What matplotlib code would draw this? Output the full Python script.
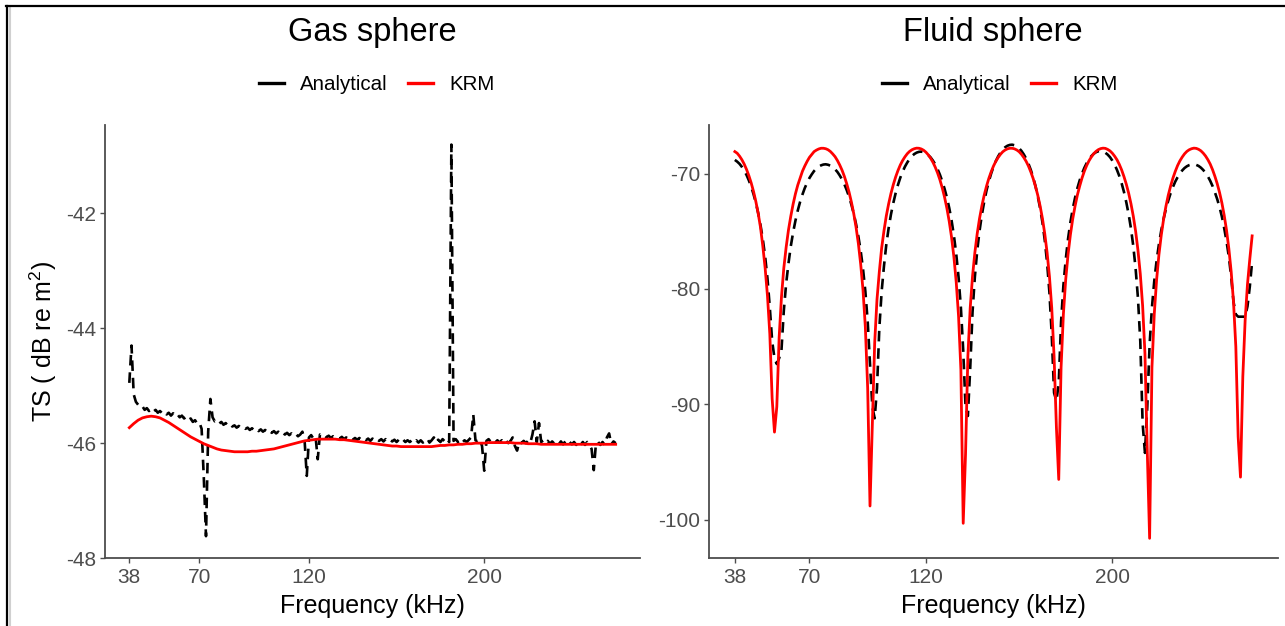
import numpy as np
import matplotlib
matplotlib.use("Agg")
import matplotlib.pyplot as plt
from matplotlib.lines import Line2D

plt.rcParams["font.family"] = ["Liberation Sans", "DejaVu Sans"]
plt.rcParams["mathtext.default"] = "regular"

# ---------------------------------------------------------------- data
freq_1k = np.arange(38, 261, 1)        # kHz, 1 kHz steps
freq_2k = np.arange(38, 261, 2)        # kHz, 2 kHz steps

gas_analytical = [
    -44.95, -44.30, -45.15, -45.28, -45.33, -45.38, -45.36, -45.42, -45.39, -45.44,   # 38-47
    -45.40, -45.45, -45.42, -45.47, -45.44, -45.48, -45.45, -45.50, -45.47, -45.52,   # 48-57
    -45.48, -45.53, -45.50, -45.55, -45.52, -45.57, -45.54, -45.60, -45.57, -45.63,   # 58-67
    -45.60, -45.66, -45.64, -45.75, -46.60, -47.62, -45.80, -45.23, -45.55, -45.62,   # 68-77
    -45.60, -45.66, -45.63, -45.68, -45.65, -45.70, -45.67, -45.71, -45.69, -45.73,   # 78-87
    -45.70, -45.74, -45.72, -45.75, -45.73, -45.77, -45.74, -45.78, -45.75, -45.79,   # 88-97
    -45.76, -45.80, -45.77, -45.81, -45.78, -45.82, -45.79, -45.83, -45.80, -45.84,   # 98-107
    -45.81, -45.85, -45.82, -45.86, -45.83, -45.87, -45.84, -45.88, -45.85, -45.80,   # 108-117
    -45.95, -46.57, -45.90, -45.86, -45.92, -45.88, -46.28, -45.85, -45.88, -45.86,   # 118-127
    -45.90, -45.87, -45.91, -45.88, -45.91, -45.89, -45.92, -45.89, -45.93, -45.90,   # 128-137
    -45.93, -45.90, -45.94, -45.91, -45.94, -45.91, -45.95, -45.92, -45.95, -45.92,   # 138-147
    -45.96, -45.92, -45.96, -45.93, -45.96, -45.93, -45.97, -45.93, -45.97, -45.94,   # 148-157
    -45.97, -45.94, -45.98, -45.94, -45.98, -45.94, -45.98, -45.95, -45.98, -45.95,   # 158-167
    -45.99, -45.95, -45.99, -45.95, -45.99, -45.96, -45.92, -45.99, -45.95, -45.90,   # 168-177
    -45.99, -45.94, -45.98, -45.93, -45.97, -45.92, -45.98, -40.80, -45.96, -45.93,   # 178-187
    -45.98, -45.94, -45.99, -45.95, -45.98, -45.94, -45.90, -45.50, -45.95, -45.97,   # 188-197
    -45.94, -46.05, -46.48, -45.96, -45.93, -45.98, -45.94, -45.99, -45.95, -45.99,   # 198-207
    -45.95, -46.00, -45.96, -46.00, -45.96, -45.90, -46.05, -46.13, -45.97, -46.00,   # 208-217
    -45.96, -46.00, -45.96, -46.00, -45.85, -45.62, -45.98, -45.65, -45.98, -45.95,   # 218-227
    -46.00, -45.96, -46.01, -45.97, -46.01, -45.97, -46.02, -45.97, -46.02, -45.97,   # 228-237
    -46.02, -45.98, -46.02, -45.98, -46.03, -45.98, -46.03, -45.98, -46.03, -45.98,   # 238-247
    -46.03, -46.10, -46.47, -46.00, -45.98, -46.03, -45.98, -46.03, -45.90, -45.83,   # 248-257
    -46.02, -45.97, -46.00,                                                           # 258-260
]

gas_krm = [
    -45.73, -45.66, -45.60, -45.56, -45.54, -45.53, -45.54, -45.56, -45.60, -45.64,   # 38-56
    -45.69, -45.74, -45.79, -45.84, -45.89, -45.93, -45.97, -46.01, -46.04, -46.07,   # 58-76
    -46.10, -46.12, -46.13, -46.14, -46.15, -46.15, -46.15, -46.15, -46.14, -46.14,   # 78-96
    -46.13, -46.12, -46.11, -46.10, -46.08, -46.06, -46.04, -46.02, -46.00, -45.98,   # 98-116
    -45.96, -45.95, -45.94, -45.93, -45.93, -45.93, -45.93, -45.93, -45.94, -45.94,   # 118-136
    -45.95, -45.96, -45.97, -45.98, -45.99, -46.00, -46.01, -46.02, -46.03, -46.04,   # 138-156
    -46.05, -46.05, -46.06, -46.06, -46.06, -46.06, -46.06, -46.06, -46.06, -46.06,   # 158-176
    -46.05, -46.04, -46.04, -46.03, -46.03, -46.02, -46.02, -46.01, -46.01, -46.00,   # 178-196
    -46.00, -46.00, -45.99, -45.99, -45.99, -45.99, -45.99, -45.99, -46.00, -46.00,   # 198-216
    -46.00, -46.01, -46.01, -46.01, -46.02, -46.02, -46.02, -46.02, -46.02, -46.02,   # 218-236
    -46.02, -46.02, -46.02, -46.02, -46.02, -46.02, -46.02, -46.02, -46.02, -46.02,   # 238-256
    -46.02, -46.02,                                                                   # 258-260
]

fluid_analytical = [
    -68.82, -68.97, -69.16, -69.42, -69.74, -70.12, -70.59, -71.14, -71.78, -72.53,   # 38-47
    -73.42, -74.46, -75.70, -77.20, -79.10, -81.60, -84.50, -86.00, -86.50, -86.00,   # 48-57
    -85.30, -81.90, -79.55, -77.80, -76.30, -75.10, -74.08, -73.20, -72.45, -71.82,   # 58-67
    -71.26, -70.80, -70.39, -70.07, -69.78, -69.56, -69.40, -69.29, -69.22, -69.20,   # 68-77
    -69.24, -69.32, -69.44, -69.63, -69.86, -70.16, -70.51, -70.93, -71.43, -72.00,   # 78-87
    -72.68, -73.46, -74.37, -75.44, -76.70, -78.26, -80.20, -82.80, -86.50, -90.20,   # 88-97
    -91.20, -88.60, -83.40, -80.20, -78.00, -76.15, -74.72, -73.53, -72.55, -71.70,   # 98-107
    -70.98, -70.36, -69.84, -69.40, -69.04, -68.73, -68.49, -68.31, -68.19, -68.12,   # 108-117
    -68.10, -68.15, -68.25, -68.40, -68.60, -68.88, -69.20, -69.62, -70.10, -70.67,   # 118-127
    -71.32, -72.08, -72.98, -74.05, -75.37, -76.96, -78.97, -81.60, -85.30, -90.20,   # 128-137
    -91.00, -86.90, -82.00, -78.95, -76.70, -74.98, -73.58, -72.45, -71.47, -70.68,   # 138-147
    -69.99, -69.41, -68.92, -68.51, -68.18, -67.92, -67.72, -67.59, -67.52, -67.50,   # 148-157
    -67.55, -67.66, -67.81, -68.04, -68.34, -68.70, -69.15, -69.68, -70.32, -71.07,   # 158-167
    -71.97, -73.00, -74.23, -75.77, -77.72, -80.30, -84.00, -89.00, -89.70, -88.15,   # 168-177
    -82.85, -79.70, -77.45, -75.65, -74.23, -73.07, -72.10, -71.27, -70.58, -70.00,   # 178-187
    -69.50, -69.09, -68.75, -68.49, -68.29, -68.15, -68.07, -68.05, -68.09, -68.20,   # 188-197
    -68.36, -68.58, -68.88, -69.24, -69.69, -70.22, -70.85, -71.60, -72.50, -73.53,   # 198-207
    -74.77, -76.30, -78.25, -80.80, -84.55, -91.65, -94.20, -90.20, -84.80, -81.60,   # 208-217
    -79.30, -77.54, -76.12, -74.92, -73.92, -73.07, -72.35, -71.71, -71.17, -70.70,   # 218-227
    -70.32, -70.00, -69.73, -69.52, -69.37, -69.27, -69.21, -69.21, -69.25, -69.34,   # 228-237
    -69.49, -69.69, -69.94, -70.25, -70.63, -71.08, -71.62, -72.21, -72.90, -73.72,   # 238-247
    -74.72, -75.86, -77.20, -78.95, -81.10, -82.20, -82.40, -82.40, -82.40, -82.40,   # 248-257
    -81.50, -79.80, -77.60,                                                           # 258-260
]

fluid_krm = [
    -68.10, -68.24, -68.49, -68.80, -69.18, -69.64, -70.18, -70.81, -71.55, -72.42,   # 38-47
    -73.44, -74.66, -76.30, -78.20, -80.60, -83.90, -89.50, -92.40, -90.20, -84.20,   # 48-57
    -80.70, -78.20, -76.40, -74.90, -73.70, -72.65, -71.75, -71.00, -70.40, -69.80,   # 58-67
    -69.35, -68.95, -68.60, -68.35, -68.10, -67.97, -67.87, -67.81, -67.81, -67.85,   # 68-77
    -67.94, -68.09, -68.30, -68.54, -68.87, -69.26, -69.71, -70.25, -70.88, -71.60,   # 78-87
    -72.46, -73.45, -74.63, -76.06, -77.85, -80.10, -83.30, -88.60, -98.80, -91.80,   # 88-97
    -84.70, -80.90, -78.50, -76.45, -74.95, -73.66, -72.62, -71.72, -70.96, -70.30,   # 98-107
    -69.74, -69.26, -68.87, -68.55, -68.28, -68.08, -67.94, -67.85, -67.80, -67.81,   # 108-117
    -67.87, -67.98, -68.15, -68.38, -68.67, -69.02, -69.45, -69.95, -70.54, -71.24,   # 118-127
    -72.05, -73.01, -74.15, -75.52, -77.22, -79.40, -82.35, -87.00, -100.30, -94.30,  # 128-137
    -85.85, -81.65, -78.90, -76.85, -75.22, -73.90, -72.81, -71.88, -71.10, -70.42,   # 138-147
    -69.85, -69.35, -68.94, -68.61, -68.33, -68.11, -67.96, -67.86, -67.81, -67.81,   # 148-157
    -67.86, -67.96, -68.11, -68.33, -68.61, -68.94, -69.35, -69.85, -70.42, -71.10,   # 158-167
    -71.88, -72.81, -73.90, -75.22, -76.85, -78.90, -81.65, -85.85, -92.00, -96.50,   # 168-177
    -86.80, -82.15, -79.15, -77.00, -75.30, -73.93, -72.82, -71.86, -71.08, -70.38,   # 178-187
    -69.79, -69.30, -68.89, -68.56, -68.28, -68.08, -67.93, -67.84, -67.80, -67.82,   # 188-197
    -67.91, -68.04, -68.24, -68.50, -68.81, -69.21, -69.69, -70.27, -70.93, -71.70,   # 198-207
    -72.62, -73.70, -75.00, -76.65, -78.70, -81.45, -85.60, -94.10, -101.60, -86.80,  # 208-217
    -82.15, -79.20, -77.02, -75.33, -73.96, -72.84, -71.88, -71.09, -70.40, -69.82,   # 218-227
    -69.31, -68.90, -68.57, -68.29, -68.08, -67.94, -67.85, -67.80, -67.82, -67.90,   # 228-237
    -68.03, -68.23, -68.48, -68.80, -69.18, -69.66, -70.23, -70.87, -71.63, -72.53,   # 238-247
    -73.61, -74.90, -76.50, -78.50, -81.10, -85.00, -92.80, -96.30, -87.60, -82.70,   # 248-257
    -79.60, -77.40, -75.40,                                                           # 258-260
]

panel_titles = ["Gas sphere", "Fluid sphere"]
series_labels = ["Analytical", "KRM"]
x_ticks = [38, 70, 120, 200]
y_ticks_gas = [-48, -46, -44, -42]
y_ticks_fluid = [-100, -90, -80, -70]

# ---------------------------------------------------------------- figure
W, H = 1285, 626
fig = plt.figure(figsize=(W / 100, H / 100), dpi=100)
fig.patch.set_facecolor("white")

def fx(px):
    return px / W

def fy(py):
    return 1 - py / H

ax_gas = fig.add_axes([fx(105), fy(558), fx(640) - fx(105), fy(125) - fy(558)])
ax_fluid = fig.add_axes([fx(709), fy(558), fx(1278) - fx(709), fy(125) - fy(558)])

AXIS_GREY = "#4D4D4D"
TICK_TEXT = "#4D4D4D"
dash_style = (4.0, 2.6)

panels = [
    (ax_gas, gas_analytical, freq_1k, gas_krm, freq_2k, y_ticks_gas),
    (ax_fluid, fluid_analytical, freq_1k, fluid_krm, freq_1k, y_ticks_fluid),
]

for ax, ana, f_ana, krm, f_krm, yt in panels:
    ax.plot(f_ana, ana, color="black", lw=1.9, linestyle=(0, dash_style),
            solid_capstyle="butt", dash_capstyle="butt")
    ax.plot(f_krm, krm, color="#FF0000", lw=2.0, solid_joinstyle="round")
    ax.margins(x=0.05, y=0.05)
    ax.set_xticks(x_ticks)
    ax.set_yticks(yt)
    ax.set_yticklabels([str(v) for v in yt])
    for side in ("top", "right"):
        ax.spines[side].set_visible(False)
    for side in ("left", "bottom"):
        ax.spines[side].set_color(AXIS_GREY)
        ax.spines[side].set_linewidth(1.3)
    ax.tick_params(axis="both", which="major", direction="out", length=3.5,
                   width=1.0, color=AXIS_GREY, labelcolor=TICK_TEXT,
                   labelsize=15, pad=3)
    ax.tick_params(axis="x", pad=4)
    ax.set_xlabel("Frequency (kHz)", fontsize=18, color="black", labelpad=5)
    ax.set_facecolor("white")

ax_gas.set_ylabel(r"TS ( dB re m$^{2}$)", fontsize=18, color="black", labelpad=5)

# titles and per-panel legends
legend_handles = [Line2D([0], [0], color="black", lw=2.4),
                  Line2D([0], [0], color="#FF0000", lw=2.4)]
title_centres = [372, 993]
legend_centres = [377, 1000]
for i, ax in enumerate([ax_gas, ax_fluid]):
    fig.text(fx(title_centres[i]), fy(33), panel_titles[i], fontsize=23.5,
             ha="center", va="center", color="black")
    fig.legend(legend_handles, series_labels, loc="center",
               bbox_to_anchor=(fx(legend_centres[i]), fy(85)), ncol=2,
               frameon=False, fontsize=14.8, handlelength=1.2,
               handletextpad=0.8, columnspacing=1.0, borderpad=0)

# outer frame (left and top edges)
fig.add_artist(Line2D([fx(9.5), fx(9.5)], [0, fy(7)], transform=fig.transFigure,
                      color="#D0D0D0", lw=1.5))
fig.add_artist(Line2D([fx(7), fx(7)], [0, fy(6)], transform=fig.transFigure,
                      color="black", lw=1.6))
fig.add_artist(Line2D([fx(6.2), 1], [fy(6), fy(6)], transform=fig.transFigure,
                      color="black", lw=1.6))

fig.savefig("out.png", dpi=100, facecolor="white")
